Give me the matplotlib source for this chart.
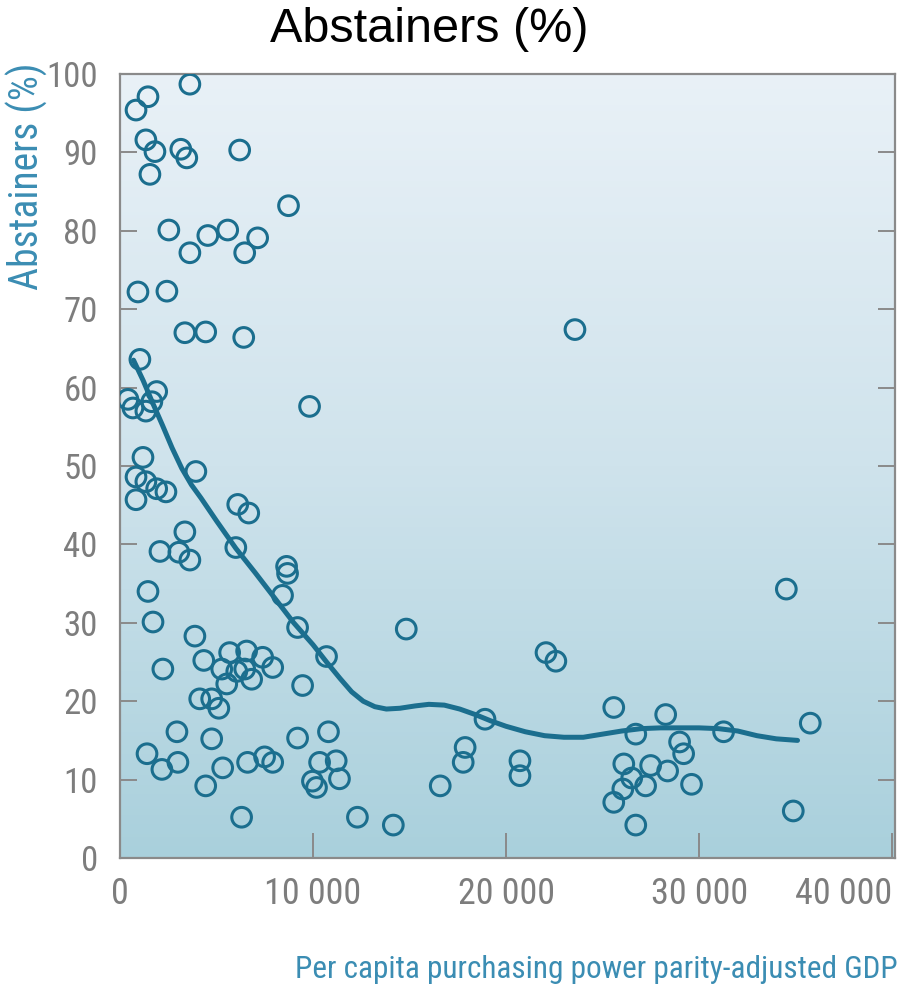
import numpy as np
import matplotlib

matplotlib.use("Agg")

import matplotlib.pyplot as plt
from matplotlib.colors import LinearSegmentedColormap
from matplotlib.ticker import FixedLocator

# 各国数据：人均 GDP（PPP）与戒酒者比例
GDP = [
    830, 1450, 3620, 1340, 1810, 1550, 3150, 3460, 6200, 8730,
    2530, 4550, 5580, 3620, 6460, 7130, 930, 2430, 3360, 4440,
    6410, 23570, 1030, 410, 670, 1340, 1650, 1900, 9820, 1190,
    830, 1340, 1900, 2380, 830, 3930, 6100, 6670, 3360, 2070,
    3050, 3620, 6000, 8630, 8680, 8420, 1450, 1710, 9200, 3880,
    4340, 2220, 5680, 6560, 7390, 7910, 5270, 6050, 6820, 5530,
    6460, 4130, 4750, 5120, 2950, 4750, 1400, 2170, 3000, 4440,
    5320, 6610, 7490, 7910, 6300, 9460, 10700, 9200, 10800, 10340,
    11200, 9970, 10180, 11370, 12300, 14160, 14830, 16590, 17880, 17780,
    18910, 20720, 20720, 22070, 22580, 25580, 26720, 26100, 26510, 26050,
    25580, 27230, 27490, 26720, 28270, 28370, 28990, 29200, 29610, 31270,
    34520, 35760, 34880,
]
ABSTAINERS = [
    95.4, 97.1, 98.7, 91.6, 90.1, 87.2, 90.4, 89.3, 90.3, 83.2,
    80.1, 79.4, 80.1, 77.2, 77.2, 79.1, 72.2, 72.3, 67.0, 67.1,
    66.4, 67.4, 63.6, 58.5, 57.4, 57.0, 58.2, 59.5, 57.6, 51.1,
    48.6, 48.0, 47.1, 46.7, 45.7, 49.3, 45.1, 44.0, 41.6, 39.1,
    39.0, 38.0, 39.6, 37.2, 36.3, 33.5, 34.0, 30.1, 29.4, 28.3,
    25.2, 24.1, 26.2, 26.4, 25.6, 24.3, 24.1, 23.8, 22.8, 22.2,
    24.1, 20.3, 20.3, 19.1, 16.1, 15.2, 13.3, 11.3, 12.2, 9.2,
    11.5, 12.2, 12.9, 12.2, 5.2, 22.0, 25.7, 15.3, 16.1, 12.2,
    12.4, 9.8, 9.0, 10.1, 5.2, 4.2, 29.2, 9.2, 14.1, 12.2,
    17.7, 12.4, 10.5, 26.2, 25.1, 19.2, 15.8, 12.0, 10.2, 8.8,
    7.1, 9.2, 11.8, 4.2, 18.3, 11.1, 14.8, 13.3, 9.4, 16.1,
    34.3, 17.2, 6.0,
]

# 平滑趋势线
TREND_X = [
    700, 1200, 1700, 2200, 2700, 3200, 3700, 4200, 5000, 6000,
    7000, 8000, 9000, 10000, 10700, 11400, 12000, 12600, 13200, 13800,
    14500, 15300, 16000, 16800, 17600, 18400, 19200, 20000, 21000, 22000,
    23000, 24000, 25000, 26000, 27000, 28000, 29000, 30000, 31000, 32000,
    33000, 34000, 35100,
]
TREND_Y = [
    63.5, 60.9, 58.0, 55.2, 52.3, 49.7, 47.6, 45.9, 43.0, 39.5,
    36.4, 33.2, 30.0, 27.2, 25.0, 22.9, 21.2, 20.0, 19.3, 19.0,
    19.1, 19.4, 19.6, 19.5, 19.0, 18.3, 17.5, 16.8, 16.1, 15.6,
    15.4, 15.4, 15.8, 16.2, 16.5, 16.6, 16.6, 16.6, 16.5, 16.2,
    15.6, 15.2, 15.0,
]

X_TICKS = [0, 10000, 20000, 30000, 40000]
X_TICK_LABELS = ["0", "10 000", "20 000", "30 000", "40 000"]
Y_TICKS = list(range(0, 101, 10))

NARROW = ["Roboto Condensed", "Archivo Narrow", "PT Sans Narrow", "Liberation Sans", "DejaVu Sans"]
TEAL = "#1b6e8e"
LABEL_TEAL = "#3b8db3"
GREY = "#8a8a8a"


def main() -> None:
    fig = plt.figure(figsize=(9, 10.02), dpi=100)
    ax = fig.add_axes([120 / 900, 1 - 858 / 1002, 775 / 900, 784 / 1002])

    # 渐变背景：上浅下蓝
    cmap = LinearSegmentedColormap.from_list("bg", ["#a9d0dc", "#cfe3ec", "#e9f1f7"])
    grad = np.linspace(0, 1, 256).reshape(-1, 1)
    ax.imshow(grad, extent=[0, 1, 0, 1], transform=ax.transAxes, cmap=cmap,
              aspect="auto", origin="lower", zorder=0)

    ax.scatter(GDP, ABSTAINERS, s=200, facecolors="none", edgecolors=TEAL,
               linewidths=2.2, zorder=3)
    ax.plot(TREND_X, TREND_Y, color=TEAL, linewidth=3.6, solid_capstyle="round",
            solid_joinstyle="round", zorder=2)

    ax.set_xlim(0, 40150)
    ax.set_ylim(0, 100)

    ax.xaxis.set_major_locator(FixedLocator(X_TICKS))
    ax.set_xticklabels(X_TICK_LABELS)
    ax.yaxis.set_major_locator(FixedLocator(Y_TICKS))

    ax.tick_params(axis="x", direction="in", length=18, width=1.4, color=GREY,
                   labelsize=26, labelcolor="#7d7d7d", pad=13)
    ax.tick_params(axis="y", direction="in", length=12, width=1.4, color=GREY,
                   labelsize=25, labelcolor="#7d7d7d", pad=16, right=True)
    for lab in ax.get_xticklabels() + ax.get_yticklabels():
        lab.set_family(NARROW)
    ax.get_xticklabels()[-1].set_horizontalalignment("right")
    ax.get_xticklabels()[-1].set_x(40150)

    for spine in ax.spines.values():
        spine.set_color(GREY)
        spine.set_linewidth(1.6)

    fig.text(429 / 900, 1 - 30 / 1002, "Abstainers (%)", ha="center", va="center",
             fontsize=35, color="black", family=["Liberation Sans", "DejaVu Sans"])
    fig.text(27 / 900, 1 - 176 / 1002, "Abstainers (%)", ha="center", va="center",
             rotation=90, fontsize=28.5, color=LABEL_TEAL, family=NARROW)
    fig.text(898 / 900, 1 - 970 / 1002, "Per capita purchasing power parity-adjusted GDP",
             ha="right", va="center", fontsize=22.5, color=LABEL_TEAL, family=NARROW)

    fig.savefig("out.png", dpi=100)
    plt.close(fig)


if __name__ == "__main__":
    main()
